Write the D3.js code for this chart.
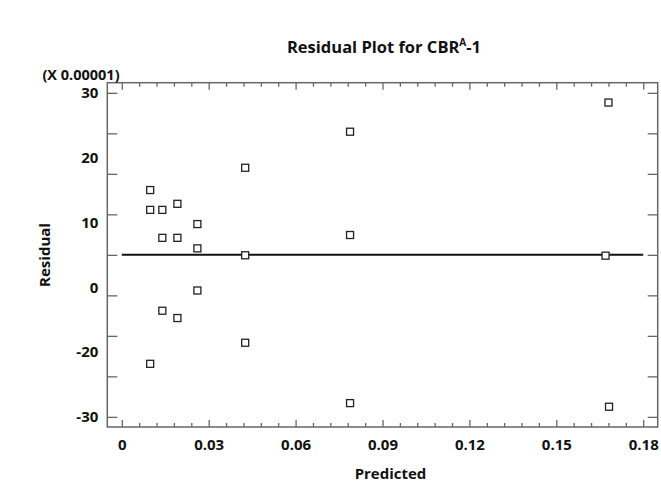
<!DOCTYPE html>
<html><head><meta charset="utf-8">
<script src="https://cdn.jsdelivr.net/npm/d3@7/dist/d3.min.js"></script>
<style>
body{margin:0;background:#fff}
text{font-family:"Open Sans","Noto Sans",sans-serif;font-weight:700;fill:#111}
</style></head><body>
<svg id="c" width="661" height="483"></svg>
<script>
// Data (residuals in units of 0.00001)
const predicted = [0.0098,0.0098,0.0098,0.0140,0.0140,0.0140,0.0192,0.0192,0.0192,0.0261,0.0261,0.0261,0.0426,0.0426,0.0426,0.0788,0.0788,0.0788,0.1670,0.1680,0.1682];
const residual  = [16.0,11.1,-26.9,11.1,4.2,-13.8,12.6,4.2,-15.6,7.6,1.6,-8.8,21.5,-0.1,-21.7,30.4,4.9,-36.6,-0.2,37.6,-37.5];
const xMajorTicks = [0,0.03,0.06,0.09,0.12,0.15,0.18];
const xTickLabels = ["0","0.03","0.06","0.09","0.12","0.15","0.18"];
const xMinorTicks = [0.006,0.012,0.018,0.024,0.036,0.042,0.048,0.054,0.066,0.072,0.078,0.084,0.096,0.102,0.108,0.114,0.126,0.132,0.138,0.144,0.156,0.162,0.168,0.174];
const yTicks = [-40,-30,-20,-10,0,10,20,30,40];
const yTickLabels = ["30","20","10","0","-20","-30"];
const title = "Residual Plot for CBR", titleSup = "A", titleEnd = "-1";
const xTitle = "Predicted", yTitle = "Residual", yUnit = "(X 0.00001)";

const svg = d3.select("#c");
const L=107.3,R=657.7,T=82.7,B=427;
const x = d3.scaleLinear().domain([-0.005,0.185]).range([L,R]);
const y = d3.scaleLinear().domain([-42.5,42.5]).range([B,T]);
const axisColor="#666";

function styleAxis(g){g.select(".domain").remove();g.selectAll("line").attr("stroke",axisColor).attr("stroke-width",1.3);}

svg.append("g").attr("transform",`translate(0,${B})`).call(d3.axisTop(x).tickValues(xMajorTicks).tickSize(7).tickFormat("")).call(styleAxis);
svg.append("g").attr("transform",`translate(0,${B})`).call(d3.axisTop(x).tickValues(xMinorTicks).tickSize(4).tickFormat("")).call(styleAxis);
svg.append("g").attr("transform",`translate(0,${T})`).call(d3.axisBottom(x).tickValues(xMajorTicks).tickSize(7).tickFormat("")).call(styleAxis);
svg.append("g").attr("transform",`translate(0,${T})`).call(d3.axisBottom(x).tickValues(xMinorTicks).tickSize(4).tickFormat("")).call(styleAxis);
svg.append("g").attr("transform",`translate(${L},0)`).call(d3.axisRight(y).tickValues(yTicks).tickSize(10).tickFormat("")).call(styleAxis);
svg.append("g").attr("transform",`translate(${R},0)`).call(d3.axisLeft(y).tickValues(yTicks).tickSize(10).tickFormat("")).call(styleAxis);

const gx = svg.append("g").attr("transform",`translate(0,${B})`)
  .call(d3.axisBottom(x).tickValues(xMajorTicks).tickSize(0).tickPadding(12).tickFormat((d,i)=>xTickLabels[i]));
gx.select(".domain").remove();
gx.selectAll("text").attr("font-size",15).attr("fill","#111");

const yl = d3.scalePoint().domain(yTickLabels).range([y(40),y(-40)]);
const gy = svg.append("g").attr("transform",`translate(${L},0)`)
  .call(d3.axisLeft(yl).tickSize(0).tickPadding(9));
gy.select(".domain").remove();
gy.selectAll("text").attr("font-size",15).attr("fill","#111");

svg.append("rect").attr("x",L).attr("y",T).attr("width",R-L).attr("height",B-T)
  .attr("fill","none").attr("stroke",axisColor).attr("stroke-width",1.5);

svg.append("line").attr("x1",x(0)).attr("x2",x(0.18)).attr("y1",y(0)).attr("y2",y(0))
  .attr("stroke","#111").attr("stroke-width",2);

const s=7;
svg.append("g").selectAll("rect").data(predicted).join("rect")
  .attr("x",(d)=>x(d)-s/2).attr("y",(d,i)=>y(residual[i])-s/2)
  .attr("width",s).attr("height",s).attr("fill","#fff").attr("stroke","#222").attr("stroke-width",1.3);

const t = svg.append("text").attr("x",384).attr("y",53).attr("text-anchor","middle").attr("font-size",16.5);
t.append("tspan").text(title);
t.append("tspan").attr("font-size",10).attr("dy",-7).text(titleSup);
t.append("tspan").attr("dy",7).text(titleEnd);

svg.append("text").attr("x",81).attr("y",80).attr("text-anchor","middle").attr("font-size",14.5).text(yUnit);
svg.append("text").attr("x",(L+R)/2+8).attr("y",479).attr("text-anchor","middle").attr("font-size",15).text(xTitle);
svg.append("text").attr("transform",`translate(50,255) rotate(-90)`).attr("text-anchor","middle").attr("font-size",15).text(yTitle);
</script>
</body></html>
